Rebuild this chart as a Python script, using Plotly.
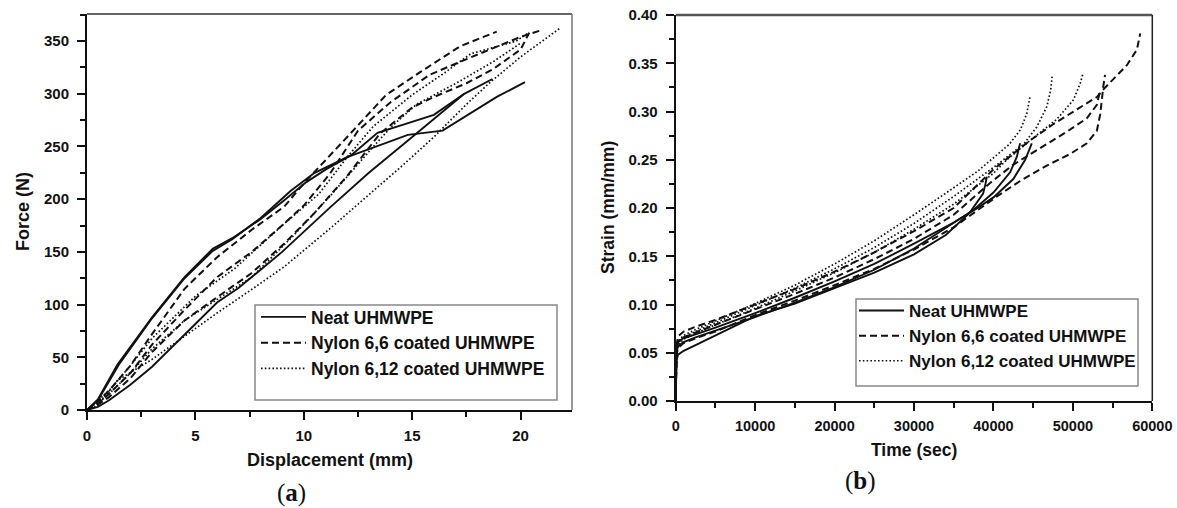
import plotly.graph_objects as go

# ---------------- Panel (a): Force vs Displacement ----------------
neat_a1_x = [0, 0.5, 1.4, 3, 4.5, 5.8, 6.7, 8, 9.1, 10.1, 11, 12.2, 13.4, 16, 17.4]
neat_a1_y = [0, 10, 43, 88, 126, 153, 163, 181, 199, 216, 228, 242, 263, 280, 300]
neat_a2_x = [0, 0.5, 1, 2, 3, 4.5, 6, 7, 9, 11.2, 13, 15, 17.4, 18.7]
neat_a2_y = [0, 3, 9, 24, 41, 72, 102, 116, 150, 192, 225, 259, 300, 314]
neat_a3_x = [0, 0.5, 1.5, 3, 4.5, 5.8, 6.7, 8, 9.4, 10.5, 12, 14.8, 16.4, 18.9, 20.2]
neat_a3_y = [0, 9, 44, 87, 125, 151, 162, 182, 208, 225, 240, 261, 265, 297, 311]

ny66_a1_x = [0, 0.5, 1, 2, 3, 4.5, 6, 7.6, 9.1, 10, 12, 13.8, 15.4, 17.2, 18.9]
ny66_a1_y = [0, 8, 18, 42, 72, 115, 145, 171, 193, 215, 259, 299, 321, 345, 359]
ny66_a2_x = [0, 0.5, 1, 2, 3, 4.5, 6, 7.6, 9.1, 10, 11.2, 12.5, 14, 15.8, 17.4, 18.7, 20, 20.9]
ny66_a2_y = [0, 6, 15, 35, 62, 95, 126, 150, 177, 194, 224, 265, 292, 318, 332, 343, 354, 360]
ny66_a3_x = [0, 0.5, 1, 2, 3, 4.5, 6, 7.6, 9.1, 10.5, 12, 13.5, 15, 16, 17.5, 18.7, 20, 20.4]
ny66_a3_y = [0, 5, 12, 30, 55, 85, 107, 130, 158, 187, 222, 262, 287, 297, 310, 323, 342, 358]

ny612_a1_x = [0, 0.5, 1.4, 3, 4.5, 6, 7.5, 9.1, 11.2, 12.9, 14.5, 16, 17.5, 18.6, 20, 21.8]
ny612_a1_y = [0, 4, 28, 48, 70, 92, 113, 136, 172, 202, 231, 259, 290, 311, 335, 362]
ny612_a2_x = [0, 1, 2, 3, 4, 5, 6.8, 9, 10.7, 12, 13.2, 15, 16.5, 17.7, 19.8, 20.3]
ny612_a2_y = [0, 18, 42, 68, 88, 108, 134, 175, 205, 240, 269, 299, 320, 338, 350, 357]
ny612_a3_x = [0, 1, 2, 3, 4.5, 6, 7.6, 9.5, 11.3, 13, 14, 15.2, 17.2, 18.7, 20]
ny612_a3_y = [0, 15, 35, 58, 85, 105, 126, 165, 205, 245, 268, 290, 312, 330, 348]

# ---------------- Panel (b): Strain vs Time ----------------
neat_b1_x = [0, 30, 100, 300, 1000, 2500, 5000, 10000, 15000, 20000, 25000, 30000, 34000, 37000, 38700, 39000, 39170]
neat_b1_y = [0, 0.03, 0.042, 0.048, 0.052, 0.058, 0.068, 0.088, 0.101, 0.117, 0.133, 0.152, 0.172, 0.195, 0.215, 0.225, 0.2325]
neat_b2_x = [0, 30, 100, 300, 1000, 2500, 5000, 10000, 15000, 20000, 25000, 30000, 34130, 37480, 40000, 42100, 42940, 43360]
neat_b2_y = [0, 0.035, 0.05, 0.057, 0.061, 0.066, 0.073, 0.087, 0.102, 0.118, 0.136, 0.158, 0.18, 0.198, 0.216, 0.237, 0.253, 0.267]
neat_b3_x = [0, 30, 100, 300, 1000, 2500, 5000, 10000, 15000, 20000, 25000, 30000, 35000, 38000, 40000, 42500, 44000, 44830]
neat_b3_y = [0, 0.038, 0.055, 0.062, 0.065, 0.069, 0.076, 0.091, 0.107, 0.124, 0.142, 0.163, 0.185, 0.2, 0.211, 0.23, 0.25, 0.267]

ny66_b1_x = [0, 30, 100, 300, 1000, 2500, 5000, 10000, 15000, 20000, 25000, 30000, 35000, 40000, 44620, 47560, 50920, 53020, 53850, 55110, 56800, 58060, 58480]
ny66_b1_y = [0, 0.04, 0.058, 0.067, 0.072, 0.077, 0.084, 0.1, 0.116, 0.134, 0.154, 0.176, 0.2, 0.24, 0.27, 0.287, 0.304, 0.315, 0.323, 0.334, 0.348, 0.364, 0.381]
ny66_b2_x = [0, 30, 100, 300, 1000, 2500, 5000, 10000, 15000, 20000, 25000, 30000, 35000, 39580, 42520, 45880, 49240, 51760, 53020, 53440]
ny66_b2_y = [0, 0.036, 0.053, 0.061, 0.066, 0.071, 0.079, 0.095, 0.111, 0.128, 0.147, 0.168, 0.193, 0.226, 0.245, 0.262, 0.279, 0.293, 0.307, 0.322]
ny66_b3_x = [0, 30, 100, 300, 1000, 2500, 5000, 10000, 15000, 20000, 25000, 30000, 35000, 40430, 43360, 46720, 49660, 51760, 53020, 53440, 53650, 53850, 54050]
ny66_b3_y = [0, 0.032, 0.047, 0.055, 0.06, 0.065, 0.072, 0.089, 0.104, 0.12, 0.137, 0.157, 0.18, 0.212, 0.228, 0.244, 0.256, 0.267, 0.28, 0.297, 0.315, 0.327, 0.338]

ny612_b1_x = [0, 30, 100, 300, 1000, 2500, 5000, 10000, 15000, 20000, 25000, 30000, 35000, 38000, 40000, 42000, 43400, 44200, 44600]
ny612_b1_y = [0, 0.035, 0.052, 0.062, 0.068, 0.074, 0.083, 0.101, 0.12, 0.142, 0.166, 0.193, 0.221, 0.238, 0.252, 0.266, 0.281, 0.298, 0.315]
ny612_b2_x = [0, 30, 100, 300, 1000, 2500, 5000, 10000, 15000, 20000, 25000, 30000, 35000, 40000, 43780, 45460, 46720, 47200, 47400]
ny612_b2_y = [0, 0.034, 0.05, 0.06, 0.066, 0.072, 0.081, 0.099, 0.117, 0.137, 0.159, 0.184, 0.212, 0.242, 0.266, 0.284, 0.305, 0.322, 0.337]
ny612_b3_x = [0, 30, 100, 300, 1000, 2500, 5000, 10000, 15000, 20000, 25000, 30000, 35000, 40000, 41690, 44620, 47980, 50070, 50920, 51260]
ny612_b3_y = [0, 0.033, 0.049, 0.058, 0.064, 0.07, 0.079, 0.096, 0.114, 0.133, 0.154, 0.178, 0.204, 0.236, 0.25, 0.27, 0.292, 0.312, 0.329, 0.339]

series_names = ["Neat UHMWPE", "Nylon 6,6 coated UHMWPE", "Nylon 6,12 coated UHMWPE"]
x_ticks_a = [0, 5, 10, 15, 20]
y_ticks_a = [0, 50, 100, 150, 200, 250, 300, 350]
x_ticks_b = [0, 10000, 20000, 30000, 40000, 50000, 60000]
y_ticks_b = [0.00, 0.05, 0.10, 0.15, 0.20, 0.25, 0.30, 0.35, 0.40]

W, H = 1177, 508
INK = "#111111"
SANS = "Liberation Sans, Arial, sans-serif"
styles = [dict(dash="solid", width=1.9),
          dict(dash="7px,4px", width=2.0),
          dict(dash="1.6px,2.2px", width=1.7)]

fig = go.Figure()

panel_a = [
    [(neat_a1_x, neat_a1_y), (neat_a2_x, neat_a2_y), (neat_a3_x, neat_a3_y)],
    [(ny66_a1_x, ny66_a1_y), (ny66_a2_x, ny66_a2_y), (ny66_a3_x, ny66_a3_y)],
    [(ny612_a1_x, ny612_a1_y), (ny612_a2_x, ny612_a2_y), (ny612_a3_x, ny612_a3_y)],
]
panel_b = [
    [(neat_b1_x, neat_b1_y), (neat_b2_x, neat_b2_y), (neat_b3_x, neat_b3_y)],
    [(ny66_b1_x, ny66_b1_y), (ny66_b2_x, ny66_b2_y), (ny66_b3_x, ny66_b3_y)],
    [(ny612_b1_x, ny612_b1_y), (ny612_b2_x, ny612_b2_y), (ny612_b3_x, ny612_b3_y)],
]

for panel, xa, ya, lg in [(panel_a, "x", "y", "legend"), (panel_b, "x2", "y2", "legend2")]:
    for gi, group in enumerate(panel):
        for ci, (xs, ys) in enumerate(group):
            fig.add_trace(go.Scatter(
                x=xs, y=ys, mode="lines", name=series_names[gi],
                legendgroup=lg + str(gi), showlegend=(ci == 0), legend=lg,
                line=dict(color=INK, **styles[gi]), xaxis=xa, yaxis=ya,
                hoverinfo="skip"))

def px_x(p):
    return p / W

def px_y(p):
    return 1 - p / H

def bold(vals, fmt):
    return ["<b>" + format(v, fmt) + "</b>" for v in vals]

axis_common = dict(showline=True, linecolor=INK, linewidth=2, ticks="outside",
                   ticklen=8, tickwidth=2, tickcolor=INK, showgrid=False,
                   zeroline=False, automargin=False, tickmode="array")

def minor(step):
    return dict(ticks="outside", ticklen=5, tickwidth=1.5, tickcolor=INK,
                tickmode="linear", tick0=0, dtick=step, showgrid=False)

fig.update_layout(
    width=W, height=H, margin=dict(l=0, r=0, t=0, b=0, pad=0, autoexpand=False),
    paper_bgcolor="white", plot_bgcolor="white",
    xaxis=dict(domain=[px_x(87), px_x(572)], range=[0, 22.37], anchor="y",
               tickvals=x_ticks_a, ticktext=bold(x_ticks_a, "d"), minor=minor(2.5),
               ticklabelstandoff=3,
               tickfont=dict(family=SANS, size=15, color=INK), **axis_common),
    yaxis=dict(domain=[px_y(410), px_y(14)], range=[0, 375.7], anchor="x",
               tickvals=y_ticks_a, ticktext=bold(y_ticks_a, "d"), minor=minor(25),
               ticklabelstandoff=5,
               tickfont=dict(family=SANS, size=15, color=INK), **axis_common),
    xaxis2=dict(domain=[px_x(675.7), px_x(1152.3)], range=[0, 60000], anchor="y2",
                tickvals=x_ticks_b, ticktext=bold(x_ticks_b, "d"), minor=minor(5000),
                ticklabelstandoff=3,
                tickfont=dict(family=SANS, size=14.5, color=INK), **axis_common),
    yaxis2=dict(domain=[px_y(401), px_y(15)], range=[0, 0.4], anchor="x2",
                tickvals=y_ticks_b, ticktext=bold(y_ticks_b, ".2f"), minor=minor(0.025),
                ticklabelstandoff=5,
                tickfont=dict(family=SANS, size=15, color=INK), **axis_common),
    legend=dict(x=px_x(256), y=px_y(299), xanchor="left", yanchor="top",
                bgcolor="rgba(0,0,0,0)", borderwidth=0, itemwidth=45,
                tracegroupgap=0, traceorder="normal",
                font=dict(family=SANS, size=17.5, color=INK, weight="bold")),
    legend2=dict(x=px_x(854), y=px_y(293), xanchor="left", yanchor="top",
                 bgcolor="rgba(0,0,0,0)", borderwidth=0, itemwidth=45,
                 tracegroupgap=0, traceorder="normal",
                 font=dict(family=SANS, size=17, color=INK, weight="bold")),
    showlegend=True,
)

# frame lines (top / right) and legend boxes
shapes = [
    dict(type="line", xref="x domain", yref="y domain", x0=0, x1=1, y0=1, y1=1,
         line=dict(color="#666666", width=2)),
    dict(type="line", xref="x domain", yref="y domain", x0=1, x1=1, y0=0, y1=1,
         line=dict(color="#777777", width=1.5)),
    dict(type="line", xref="x2 domain", yref="y2 domain", x0=0, x1=1, y0=1, y1=1,
         line=dict(color="#555555", width=2.5)),
    dict(type="line", xref="x2 domain", yref="y2 domain", x0=1, x1=1, y0=0, y1=1,
         line=dict(color="#222222", width=1.5)),
    dict(type="rect", xref="paper", yref="paper", x0=px_x(255), x1=px_x(557),
         y0=px_y(400), y1=px_y(305), line=dict(color="#888888", width=1.5)),
    dict(type="rect", xref="paper", yref="paper", x0=px_x(856), x1=px_x(1138),
         y0=px_y(386), y1=px_y(299), line=dict(color="#888888", width=1.5)),
]
fig.update_layout(shapes=shapes)

annos = [
    dict(text="Displacement (mm)", x=px_x(330), y=px_y(460), textangle=0,
         font=dict(family=SANS, size=18, color=INK, weight="bold")),
    dict(text="Force (N)", x=px_x(23), y=px_y(212), textangle=-90,
         font=dict(family=SANS, size=18, color=INK, weight="bold")),
    dict(text="Time (sec)", x=px_x(914), y=px_y(450), textangle=0,
         font=dict(family=SANS, size=17.5, color=INK, weight="bold")),
    dict(text="Strain (mm/mm)", x=px_x(608), y=px_y(208), textangle=-90,
         font=dict(family=SANS, size=17.5, color=INK, weight="bold")),
    dict(text="(<b>a</b>)", x=px_x(291), y=px_y(493),
         font=dict(family="Liberation Serif, DejaVu Serif, serif", size=25, color=INK)),
    dict(text="(<b>b</b>)", x=px_x(860), y=px_y(481),
         font=dict(family="Liberation Serif, DejaVu Serif, serif", size=25, color=INK)),
]
for a in annos:
    a.update(xref="paper", yref="paper", showarrow=False, xanchor="center", yanchor="middle")
fig.update_layout(annotations=annos)

fig.write_html("out.html")
